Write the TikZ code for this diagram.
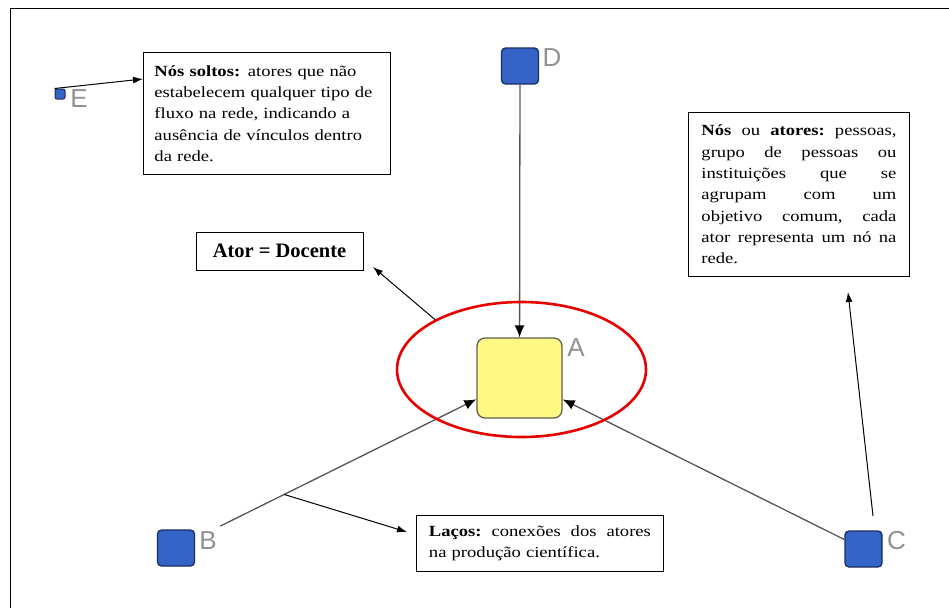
\documentclass[tikz,border=0pt]{standalone}
\usepackage{fontspec}
\setmainfont{Liberation Serif}
\newfontfamily\boxfont{Liberation Serif}[FakeStretch=1.2]
\newfontfamily\labfont{Liberation Sans}
\usetikzlibrary{arrows.meta,shapes.geometric,calc}
\definecolor{actorblue}{RGB}{52,100,200}
\definecolor{actorline}{RGB}{25,45,95}
\definecolor{actoryellow}{RGB}{255,248,130}
\definecolor{yellowline}{RGB}{95,95,80}
\definecolor{labgray}{RGB}{145,145,145}
\definecolor{edgegray}{RGB}{85,85,85}
\definecolor{ringred}{RGB}{230,0,0}
\newcommand\jline[2]{\leavevmode\hbox to #1{#2}}
\begin{document}
\begin{tikzpicture}[x=1pt,y=-1pt,
  actor/.style={draw=actorline, fill=actorblue, line width=1.3pt, rounded corners=4pt,
    minimum width=37pt, minimum height=36pt, inner sep=0pt},
  lab/.style={font=\labfont\fontsize{26}{26}\selectfont, text=labgray, inner sep=0pt},
  notebox/.style={draw, line width=0.9pt, fill=white, inner ysep=0pt, anchor=north west,
    font=\boxfont\fontsize{15.5}{21.3}\selectfont, align=left},
  edge/.style={draw=edgegray, line width=1.3pt, -{Latex[length=12pt,width=10pt,color=black]}},
  note/.style={draw=black, line width=1pt, -{Latex[length=10pt,width=7pt]}}
]
\useasboundingbox (0,0) rectangle (949,608);
\draw[line width=1pt] (10,608) -- (10,8) -- (949,8);

% actors
\node[actor, fill=actoryellow, draw=yellowline, rounded corners=8pt,
  minimum width=85pt, minimum height=80pt] (A) at (519.5,378) {};
\node[actor] (B) at (176,548) {};
\node[actor] (C) at (863.5,549) {};
\node[actor] (D) at (520,66) {};
\node[actor, minimum width=10pt, minimum height=10pt, rounded corners=2pt, line width=1pt] (E) at (60,94) {};

\node[lab] (lA) at (576,348) {A};
\node[lab] (lB) at (208,541) {B};
\node[lab] (lC) at (896.5,541) {C};
\node[lab] (lD) at (552,57.5) {D};
\node[lab] (lE) at (79,98.5) {E};

% text boxes
\node[notebox, text width=225pt, inner xsep=11pt, minimum height=122pt] (soltos) at (143,52)
  {\textbf{Nós soltos:} atores que não\\
   estabelecem qualquer tipo de\\
   fluxo na rede, indicando a\\
   ausência de vínculos dentro\\
   da rede.};
\node[notebox, text width=195pt, inner xsep=13pt, minimum height=164pt] (atores) at (688,112)
  {\jline{195pt}{\textbf{Nós}\hfill ou\hfill \textbf{atores:}\hfill pessoas,}\\
   \jline{195pt}{grupo\hfill de\hfill pessoas\hfill ou}\\
   \jline{195pt}{instituições\hfill que\hfill se}\\
   \jline{195pt}{agrupam\hfill com\hfill um}\\
   \jline{195pt}{objetivo\hfill comum,\hfill cada}\\
   \jline{195pt}{ator\hfill representa\hfill um\hfill nó\hfill na}\\
   rede.};
\node[notebox, text width=222pt, inner xsep=12.5pt, minimum height=56pt] (lacos) at (416,515)
  {\jline{222pt}{\textbf{Laços:}\hfill conexões\hfill dos\hfill atores}\\
   na produção científica.};
\node[draw, line width=0.9pt, inner sep=0pt, minimum width=167pt, minimum height=38pt,
  font=\bfseries\fontsize{20.5}{24}\selectfont] (ator) at (279.5,251) {Ator = Docente};

% network edges
\draw[edge] (D) -- (A);
\draw[edge, shorten <=28pt] (B) -- (A);
\draw[edge] (C) -- (A);

% highlight ring
\node[ellipse, draw=ringred, line width=2.6pt, minimum width=249pt, minimum height=135pt,
  inner sep=0pt] (ring) at (521.5,369.5) {};

% annotation arrows
\coordinate (etip) at (143,79);
\coordinate (atortip) at (373,267);
\coordinate (lacotail) at ($(B)!0.315!(A)$);
\coordinate (lacotip) at (407,532);
\coordinate (ctail) at (873,516);
\coordinate (atorestip) at (848,292);
\draw[note] (E.north west) -- (etip);
\draw[note] (ring.150) -- (atortip);
\draw[note] (lacotail) -- (lacotip);
\draw[note] (ctail) -- (atorestip);
\end{tikzpicture}
\end{document}
